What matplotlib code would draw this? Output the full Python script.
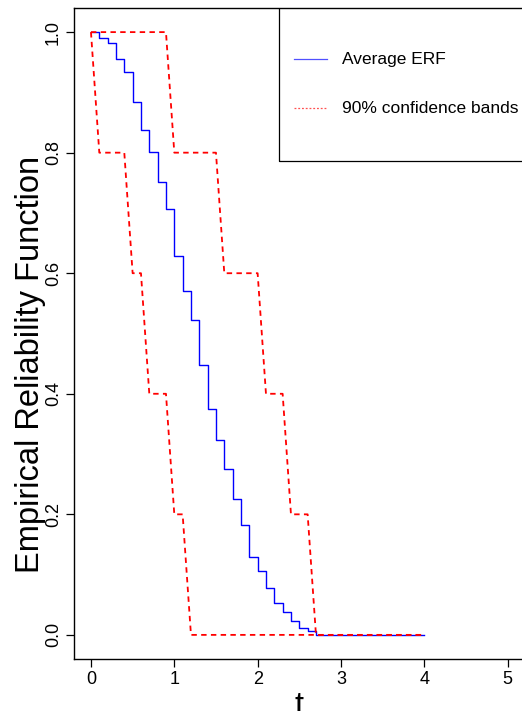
import matplotlib
matplotlib.use('Agg')
import matplotlib.pyplot as plt
from matplotlib.patches import Rectangle
import numpy as np

plt.rcParams['font.family'] = ['Liberation Sans', 'DejaVu Sans']

# time grid (steps of 0.1 from 0 to 4)
t = np.round(np.arange(0, 4.01, 0.1), 1)

# average empirical reliability function
erf_avg = [1.0, 0.991, 0.982, 0.955, 0.934, 0.884, 0.838, 0.801, 0.752, 0.707,
           0.629, 0.571, 0.522, 0.447, 0.374, 0.324, 0.276, 0.226, 0.183, 0.129,
           0.106, 0.078, 0.053, 0.038, 0.023, 0.011, 0.007] + [0.0] * 14

# 90% confidence bands
band_upper = [1.0] * 10 + [0.8] * 6 + [0.6] * 5 + [0.4] * 3 + [0.2] * 3 + [0.0] * 14
band_lower = [1.0, 0.8, 0.8, 0.8, 0.8, 0.6, 0.6, 0.4, 0.4, 0.4,
              0.2, 0.2] + [0.0] * 29

legend_labels = ['Average ERF', '90% confidence bands']

fig = plt.figure(figsize=(5.22, 7.11), dpi=100)
ax = fig.add_axes([74.3 / 522, 1 - 659 / 711, 450 / 522, 651 / 711])

ax.step(t, erf_avg, where='post', color='blue', linewidth=1.0)
ax.plot(t, band_upper, color='red', linewidth=1.3, dashes=(3, 2.4))
ax.plot(t, band_lower, color='red', linewidth=1.3, dashes=(3, 2.4))

ax.set_xlim(-0.2, 5.2)
ax.set_ylim(-0.04, 1.04)
ax.set_xticks([0, 1, 2, 3, 4, 5])
ax.set_yticks([0.0, 0.2, 0.4, 0.6, 0.8, 1.0])
ax.set_yticklabels(['0.0', '0.2', '0.4', '0.6', '0.8', '1.0'],
                   rotation=90, va='center')
ax.tick_params(axis='both', labelsize=13, length=6, width=0.9, pad=3)
for s in ax.spines.values():
    s.set_linewidth(1.0)

ax.set_xlabel('t', fontsize=23.5, labelpad=2)
ax.set_ylabel('Empirical Reliability Function', fontsize=23.5)
ax.yaxis.set_label_coords(-0.063, 0.452)

# legend box (R style, top right)
ax.add_patch(Rectangle((2.256, 0.787), 4.0, 0.4, fill=False,
                       edgecolor='black', linewidth=0.9, clip_on=True))
ax.plot([2.436, 2.832], [0.955, 0.955], color='#5050ff', linewidth=0.9)
ax.plot([2.436, 2.832], [0.874, 0.874], color='#ff5050', linewidth=0.9,
        dashes=(1.5, 1.5))
ax.text(3.008, 0.955, legend_labels[0], fontsize=12.5, va='center', ha='left')
ax.text(3.008, 0.874, legend_labels[1], fontsize=12.5, va='center', ha='left')

fig.savefig('out.png', dpi=100)
